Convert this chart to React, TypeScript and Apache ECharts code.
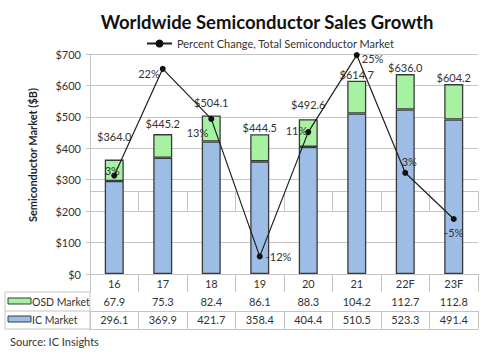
import React, { useEffect, useRef } from "react";
import * as echarts from "echarts";

const categories = ["16", "17", "18", "19", "20", "21", "22F", "23F"];
const osdMarket = [67.9, 75.3, 82.4, 86.1, 88.3, 104.2, 112.7, 112.8];
const icMarket = [296.1, 369.9, 421.7, 358.4, 404.4, 510.5, 523.3, 491.4];
const totals = [364.0, 445.2, 504.1, 444.5, 492.6, 614.7, 636.0, 604.2];
const percentChange = [2.9, 22.3, 13.2, -11.8, 10.8, 24.8, 3.4, -5.0];
const yTickValues = [0, 100, 200, 300, 400, 500, 600, 700];

// label placement (styling only)
const totalLabelOffsets = [-17, -4, -7, 0, -8, 0, 0, 0];
const pctLabelStyles: any[] = [
  { position: "top", distance: 0, offset: [-2, 3] },
  { position: "left", distance: 0, offset: [0, 5] },
  { position: "left", distance: 0, offset: [0, 14] },
  { position: "right", distance: 3, offset: [0, 0] },
  { position: "left", distance: -2, offset: [0, -2] },
  { position: "right", distance: 2, offset: [0, 3] },
  { position: "top", distance: 3, offset: [4, 0] },
  { position: "bottom", distance: 5, offset: [0, 0] },
];

const FONT = "Lato";
const GRID_COLOR = "#c4c4c4";
const TEXT_COLOR = "#333333";
const BLUE = "#9dbde6";
const GREEN = "#a6f2a2";
const BORDER = "#3a3a3a";

export default function App() {
  const ref = useRef<HTMLDivElement>(null);
  useEffect(() => {
    if (!ref.current) return;
    const chart = echarts.init(ref.current, null, { renderer: "svg" });
    const tableAxis = (data: string[], offset: number, tickLen: number, margin: number, showLabel = true) => ({
      type: "category",
      data,
      position: "bottom",
      offset,
      gridIndex: 0,
      boundaryGap: true,
      axisLine: { show: true, lineStyle: { color: GRID_COLOR, width: 1 } },
      axisTick: { show: tickLen > 0, interval: 0, length: tickLen, lineStyle: { color: GRID_COLOR } },
      axisLabel: { show: showLabel, interval: 0, margin, fontSize: 11, color: TEXT_COLOR, fontFamily: FONT },
      splitLine: { show: false },
    });
    chart.setOption({
      animation: false,
      textStyle: { fontFamily: FONT },
      grid: { left: 90, right: 7, top: 54, bottom: 81, containLabel: false },
      legend: {
        data: ["Percent Change, Total Semiconductor Market"],
        left: 141,
        top: 33,
        itemWidth: 25,
        itemHeight: 10,
        itemGap: 4,
        textStyle: { fontSize: 11, color: TEXT_COLOR, fontFamily: FONT },
      },
      xAxis: [
        tableAxis(categories, 0, 18, 4),
        tableAxis(osdMarket.map((v) => v.toFixed(1)), 18, 19, 4),
        tableAxis(icMarket.map((v) => v.toFixed(1)), 37, 18, 3),
        tableAxis(categories, 55, 0, 0, false),
      ],
      yAxis: [
        {
          type: "value",
          min: yTickValues[0],
          max: yTickValues[yTickValues.length - 1],
          interval: 100,
          axisLine: { show: true, lineStyle: { color: GRID_COLOR } },
          axisTick: { show: true, length: 4, lineStyle: { color: GRID_COLOR } },
          axisLabel: { formatter: (v: number) => "$" + v, fontSize: 11, color: TEXT_COLOR, margin: 9, fontFamily: FONT },
          splitLine: { show: true, lineStyle: { color: GRID_COLOR, width: 1 } },
        },
        {
          type: "value",
          min: -15,
          max: 25,
          show: false,
          splitLine: { show: false },
        },
      ],
      series: [
        {
          name: "IC Market",
          type: "bar",
          stack: "total",
          barWidth: 19,
          data: icMarket,
          itemStyle: { color: BLUE, borderColor: BORDER, borderWidth: 1.3 },
        },
        {
          name: "OSD Market",
          type: "bar",
          stack: "total",
          barWidth: 19,
          data: osdMarket.map((v, i) => ({
            value: v,
            label: { offset: [0, totalLabelOffsets[i]] },
          })),
          itemStyle: { color: GREEN, borderColor: BORDER, borderWidth: 1.3 },
          label: {
            show: true,
            position: "top",
            distance: 1,
            fontSize: 11,
            color: TEXT_COLOR,
            fontFamily: FONT,
            formatter: (p: any) => "$" + totals[p.dataIndex].toFixed(1),
          },
        },
        {
          name: "Percent Change, Total Semiconductor Market",
          type: "line",
          yAxisIndex: 1,
          z: 5,
          data: percentChange.map((v, i) => ({
            value: v,
            label: pctLabelStyles[i],
          })),
          symbol: "circle",
          symbolSize: 6,
          lineStyle: { color: "#1f1f1f", width: 1.2 },
          itemStyle: { color: "#111111" },
          label: {
            show: true,
            fontSize: 11,
            color: TEXT_COLOR,
            fontFamily: FONT,
            formatter: (p: any) => Math.round(p.value) + "%",
          },
        },
      ],
      graphic: [
        {
          type: "text",
          x: 267,
          y: 22,
          style: {
            text: "Worldwide Semiconductor Sales Growth",
            font: `bold 18.5px ${FONT}`,
            fill: "#111111",
            textAlign: "center",
            textVerticalAlign: "middle",
          },
        },
        {
          type: "text",
          x: 32,
          y: 155,
          rotation: Math.PI / 2,
          style: {
            text: "Semiconductor Market ($B)",
            font: `bold 11px ${FONT}`,
            fill: "#222222",
            textAlign: "center",
            textVerticalAlign: "middle",
          },
        },
        {
          type: "rect",
          shape: { x: 5, y: 292, width: 85, height: 37 },
          style: { fill: "none", stroke: GRID_COLOR, lineWidth: 1 },
        },
        {
          type: "line",
          shape: { x1: 5, y1: 311, x2: 90, y2: 311 },
          style: { stroke: GRID_COLOR, lineWidth: 1 },
        },
        {
          type: "rect",
          shape: { x: 8, y: 298, width: 23, height: 6 },
          style: { fill: GREEN, stroke: BORDER, lineWidth: 1 },
        },
        {
          type: "text",
          x: 32,
          y: 302,
          style: { text: "OSD Market", font: `10.5px ${FONT}`, fill: TEXT_COLOR, textVerticalAlign: "middle" },
        },
        {
          type: "rect",
          shape: { x: 8, y: 316, width: 23, height: 6 },
          style: { fill: BLUE, stroke: BORDER, lineWidth: 1 },
        },
        {
          type: "text",
          x: 32,
          y: 320,
          style: { text: "IC Market", font: `10.5px ${FONT}`, fill: TEXT_COLOR, textVerticalAlign: "middle" },
        },
        {
          type: "text",
          x: 10,
          y: 341,
          style: { text: "Source: IC Insights", font: `11px ${FONT}`, fill: TEXT_COLOR, textVerticalAlign: "middle" },
        },
      ],
    });
    return () => chart.dispose();
  }, []);
  return <div ref={ref} style={{ width: 485, height: 355, position: "absolute", left: 0, top: 0, background: "#fff" }} />;
}
